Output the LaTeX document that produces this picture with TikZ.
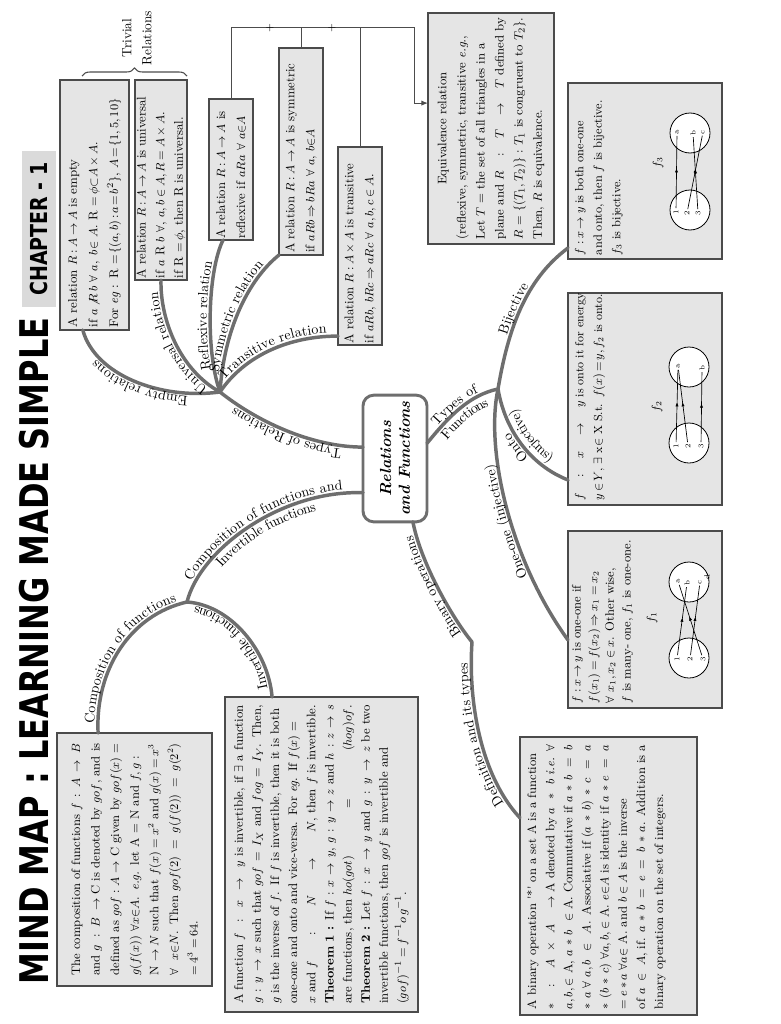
\documentclass[tikz,border=0pt]{standalone}
\usepackage{fontspec}
\newfontfamily\titlefont{DejaVu Sans}
\usetikzlibrary{calc,arrows.meta,decorations.text,decorations.pathreplacing,decorations.markings}
\definecolor{branchc}{RGB}{110,110,110}
\definecolor{boxfill}{RGB}{229,229,229}
\definecolor{boxline}{RGB}{75,75,75}
\definecolor{chapfill}{RGB}{218,218,218}
\newcommand\lblfont{\fontsize{10.5}{12}\selectfont}
\newcommand\jl[1]{\makebox[\hsize][s]{#1}}
\newcommand\bx[2]{\fontsize{#1}{#2}\selectfont\thickmuskip=4mu plus 2mu\relax\medmuskip=3mu plus 1mu\relax\hyphenpenalty=10000\relax\exhyphenpenalty=10000\relax}
\newcommand\tightmath{\thickmuskip=3mu plus 1mu\relax}
\newcommand\tightermath{\thickmuskip=2.5mu plus 1mu\relax}
\tikzset{
 box/.style={draw=boxline, fill=boxfill, line width=0.9pt, rotate=90, outer sep=0pt, inner sep=0pt, align=left},
 btext/.style={rotate=90, inner sep=0pt, outer sep=0pt, align=left},
 branch/.style={draw=branchc, line width=2.6pt, line cap=round},
 conn/.style={draw=black!70, line width=0.75pt},
 lbl/.style 2 args={decorate, decoration={text along path, text={|\lblfont|#1}, text align=center, raise=#2}},
 ftext/.style={rotate=90, inner sep=0pt, font=\small},
 venn/.style={circle, draw=black, line width=0.6pt, fill=white, minimum size=30pt, inner sep=0pt},
 maparr/.style={draw=black, line width=0.5pt, postaction={decorate}, decoration={markings, mark=at position 0.55 with {\arrow{Latex[length=3pt,width=2.4pt]}}}},
 elem/.style={rotate=90, inner sep=1pt, font=\fontsize{5.5}{6}\selectfont},
}
\begin{document}
\begin{tikzpicture}[x=0.75pt,y=-0.75pt]
\useasboundingbox (0,0) rectangle (781,1024);

% ---------- title ----------
\node[rotate=90, inner sep=0pt] (title) at (34,651) {\resizebox{500pt}{22pt}{\titlefont\bfseries MIND MAP : LEARNING MADE SIMPLE}};
\node[rotate=90, fill=chapfill, minimum width=117pt, minimum height=25pt, inner sep=0pt] (chap) at (39,229) {\resizebox{100pt}{13pt}{\titlefont\bfseries CHAPTER - 1}};

% ---------- centre ----------
\node[rotate=90, draw=branchc, line width=2.2pt, rounded corners=8pt, fill=white, minimum width=95pt, minimum height=48pt, inner sep=0pt, outer sep=0pt, align=center, font=\fontsize{12}{14}\selectfont\bfseries\itshape] (rf) at (395,458.5) {Relations\\and Functions};

% ---------- relation boxes ----------
\node[box, minimum width=187.5pt, minimum height=51.75pt, text width=183pt, font=\bx{9.4}{15.5}] (emp) at (94.5,205)
{A relation $R : A \to A$ is empty\\
if $a \not R\, b\ \forall\ a,\ b{\in}\ A.$ R $= \phi{\subset}A\times A.$\\
\tightermath For \textit{eg} : R $= \{(a,b) : a = b^2\}$, $A = \{1,5,10\}$};

\node[box, minimum width=150pt, minimum height=39pt, text width=147pt, font=\bx{9.5}{14}] (uni) at (161,180)
{A relation $R : A \to A$ is universal\\
if $a$ R $b$ $\forall$, $a,b \in A, R = A \times A$.\\
if R $= \phi$, then R is universal.};

\node[box, minimum width=105.75pt, minimum height=33pt, text width=104pt, font=\bx{9.5}{15}] (ref) at (231,169.5)
{A relation $R : A \to A$ is\\
reflexive if $aRa\ \forall\ a{\in}A$};

\node[box, minimum width=155.25pt, minimum height=33pt, text width=152pt, font=\bx{9.5}{15}] (sym) at (301,151.5)
{A relation $R : A \to A$ is symmetric\\
if $aRb \Rightarrow bRa\ \forall\ a,\, b{\in}A$};

\node[box, minimum width=148.5pt, minimum height=33pt, text width=146pt, font=\bx{9.5}{15}] (tra) at (360,246)
{A relation $R : A \times A$ is transitive\\
if $aRb$, $bRc \Rightarrow aRc\ \forall\ a,b,c \in A$.};

\node[box, minimum width=173.25pt, minimum height=94.5pt, text width=166pt, font=\bx{9.3}{14.3}] (equ) at (491,128.5)
{\makebox[\hsize][c]{Equivalence relation}\\
\jl{(reflexive, symmetric, transitive \textit{e.g.},}\\
\jl{Let $T$ = the set of all triangles in a}\\
\jl{plane and $R : T \to T$ defined by}\\
\jl{$R = \{(T_1, T_2)\} : T_1$ is congruent to $T_2\}$.}\\
Then, $R$ is equivalence.};

\node[rotate=90, align=center, inner sep=0pt, font=\fontsize{10}{15}\selectfont] (triv) at (137,38) {Trivial\\Relations};
\coordinate (bL) at (82,76);
\coordinate (bR) at (187,76);
\draw[decorate, decoration={brace, amplitude=6pt}, line width=0.8pt, draw=black!70] (bL) -- (bR);

% connectors to equivalence
\coordinate (jA) at (231,28);
\coordinate (jB) at (414,28);
\coordinate (eqIn) at ($(equ.north west)!0.61!(equ.north east)$);
\draw[conn, -{Latex[length=5pt,width=4pt]}] (ref.east) -- (jA) -- (jB) |- (eqIn);
\draw[conn] (sym.east) -- (sym.east |- jA);
\draw[conn] (tra.east) -- (tra.east |- jA);
\node[rotate=90, inner sep=0pt, font=\footnotesize] (pl1) at (270,28) {+};
\node[rotate=90, inner sep=0pt, font=\footnotesize] (pl2) at (332,28) {+};

% ---------- function boxes ----------
\node[box, minimum width=132pt, minimum height=115.5pt] (bij) at (645,171) {};
\node[btext, anchor=north west, text width=125pt, font=\bx{9}{13.9}] (bijt) at (575,255)
{$f : x \to y$ is both one-one\\
and onto, then $f$ is bijective.\\
$f_3$ is bijective.};
\node[ftext] (f3) at (658,163) {$f_3$};
\node[venn] (d3) at (690,210) {};
\node[venn] (c3) at (690,133) {};
\node[elem] (b1) at (676,212) {1};
\node[elem] (b2) at (687,213) {2};
\node[elem] (b3) at (698,213) {3};
\node[elem] (ba) at (677,132) {a};
\node[elem] (bb) at (693,133) {b};
\node[elem] (bc) at (703,132) {c};
\draw[maparr] (b1) -- (ba);
\draw[maparr] (b2) -- (bc);
\draw[maparr] (b3) -- (bb);

\node[box, minimum width=159pt, minimum height=115.5pt] (ont) at (645,399) {};
\node[btext, anchor=north west, text width=155pt, font=\bx{8.8}{14}] (ontt) at (575,500)
{\tightmath\jl{$f : x \to y$ is onto it for energy}\\
$y \in Y$, $\exists$ x$\in$ X S.t. $f(x) = y, f_2$ is onto.};
\node[ftext] (f2) at (657,407) {$f_2$};
\node[venn] (d2) at (689,443) {};
\node[venn] (c2) at (689,367) {};
\node[elem] (o1) at (676,446) {1};
\node[elem] (o2) at (688,446) {2};
\node[elem] (o3) at (701,446) {3};
\node[elem] (oa) at (678,366) {a};
\node[elem] (ob) at (702,368) {b};
\draw[maparr] (o1) -- (oa);
\draw[maparr] (o2) -- (oa);
\draw[maparr] (o3) -- (ob);

\node[box, minimum width=132.75pt, minimum height=115.5pt] (one) at (645,619.5) {};
\node[btext, anchor=north west, text width=128pt, font=\bx{9.2}{12.5}] (onet) at (572,703)
{$f : x \to y$ is one-one if\\
$f(x_1) = f(x_2) \Rightarrow x_1 = x_2$\\
$\forall\ x_1, x_2 \in x$. Other wise,\\
$f$ is many- one, $f_1$ is one-one.};
\node[ftext] (f1) at (652,618) {$f_1$};
\node[venn] (d1) at (689,658) {};
\node[venn] (c1) at (689,582) {};
\node[elem] (n1) at (677,659) {1};
\node[elem] (n2) at (690,659) {2};
\node[elem] (n3) at (703,659) {3};
\node[elem] (na) at (678,581) {a};
\node[elem] (nb) at (687,583) {b};
\node[elem] (nc) at (700,582) {c};
\node[elem] (nd) at (707,577) {d};
\draw[maparr] (n1) -- (nb);
\draw[maparr] (n2) -- (nc);
\draw[maparr] (n3) -- (na);

% ---------- binary ----------
\node[box, minimum width=208.5pt, minimum height=132.75pt] (bin) at (608.5,876) {};
\node[btext, anchor=north west, text width=198pt, font=\bx{9.2}{13.6}] (bint) at (527,1009)
{\jl{A binary operation \textquotesingle*\textquotesingle\ on a set A is a function}\\
\jl{$*: A \times A \to$ A denoted by $a * b$ \textit{i.e.} $\forall$}\\
\jl{$a,b,{\in}$ A, $a * b \in$ A. Commutative if $a * b = b$}\\
\jl{$*\ a\ \forall\ a,b \in A$. Associative if $(a * b) * c = a$}\\
\jl{$*\ (b * c)\ \forall a,b,{\in}$ A. $e{\in}A$ is identity if $a * e = a$}\\
$= e * a\ \forall a{\in}$ A. and $b \in A$ is the inverse\\
\jl{of $a \in A$, if. $a * b = e = b * a$. Addition is a}\\
binary operation on the set of integers.};

% ---------- composition / invertible ----------
\node[box, minimum width=189.75pt, minimum height=116.25pt, text width=174pt, font=\bx{9.2}{14.7}] (com) at (134.5,859.5)
{\jl{The composition of functions $f : A \to B$}\\
\jl{and $g : B \to$ C is denoted by $gof$, and is}\\
\jl{defined as $gof : A \to$ C given by $gof(x)$ =}\\
\jl{$g(f(x))\ \forall x{\in}A$. \textit{e.g.} let A = N and $f, g$ :}\\
\jl{N $\to N$ such that $f(x) = x^2$ and $g(x) = x^3$}\\
\jl{$\forall\ \ x{\in}N$. Then $gof(2) = g(f(2)) = g(2^2)$}\\
$= 4^3 = 64$.};

\node[box, minimum width=236.25pt, minimum height=144.75pt, text width=224pt, font=\bx{9.3}{13.6}] (inv) at (321.5,854.5)
{\jl{A function $f : x \to y$ is invertible, if $\exists$ a function}\\
\jl{$g : y \to x$ such that $gof = I_X$ and $fog = I_Y$. Then,}\\
\jl{$g$ is the inverse of $f$. If $f$ is invertible, then it is both}\\
\jl{one-one and onto and vice-versa. For \textit{eg}. If $f(x)$ =}\\
\jl{$x$ and $f : N \to N$, then $f$ is invertible.}\\
\jl{\textbf{Theorem 1 :} If $f : x \to y$, $g : y \to z$ and $h : z \to s$}\\
\jl{are functions, then $ho(got) = (hog)of$.}\\
\jl{\textbf{Theorem 2 :} Let $f : x \to y$ and $g : y \to z$ be two}\\
\jl{invertible functions, then $gof$ is invertible and}\\
$(gof)^{-1} = f^{-1} o\, g^{-1}$.};

% ---------- attachment points ----------
\coordinate (hR) at (220,392);
\coordinate (hC) at (187,602);
\coordinate (hF) at (498,389);
\coordinate (hB) at (472,642);
\coordinate (P1) at ($(rf.north west)!0.59!(rf.north east)$);
\coordinate (P2) at ($(rf.north west)!0.23!(rf.north east)$);
\coordinate (P3) at ($(rf.south west)!0.62!(rf.south east)$);
\coordinate (P4) at ($(rf.north west)!0.78!(rf.south west)$);
\coordinate (eEM) at ($(emp.north west)!0.33!(emp.south west)$);
\coordinate (eUN) at (uni.west);
\coordinate (eRE) at ($(ref.north west)!0.32!(ref.south west)$);
\coordinate (eSY) at (sym.north west);
\coordinate (eTA) at ($(tra.north west)!0.045!(tra.north east)$);
\coordinate (eBJ) at ($(bij.north west)!0.0625!(bij.north east)$);
\coordinate (eON) at ($(ont.north west)!0.118!(ont.north east)$);
\coordinate (eOO) at ($(one.north west)!0.384!(one.north east)$);
\coordinate (eDE) at ($(bin.north west)!0.709!(bin.north east)$);
\coordinate (eCO) at ($(com.north east)!0.265!(com.south east)$);
\coordinate (eIN) at ($(inv.north east)!0.244!(inv.south east)$);

% ---------- branches ----------
\draw[branch] (P1) .. controls (310,447) and (255,420) .. (hR);
\path[lbl={Types of Relations}{2.5pt}] (P1) .. controls (310,447) and (255,420) .. (hR);

\draw[branch] (hR) .. controls (160,400) and (95,375) .. (eEM);
\path[lbl={Empty relations}{2.5pt}] (hR) .. controls (160,400) and (95,375) .. (eEM);

\draw[branch] (hR) .. controls (180,370) and (160,320) .. (eUN);
\path[lbl={Universal relation}{2.5pt}] (hR) .. controls (180,370) and (160,320) .. (eUN);

\draw[branch] (hR) .. controls (205,350) and (208,270) .. (eRE);
\path[lbl={Reflexive relation}{2.5pt}] (hR) .. controls (205,350) and (208,270) .. (eRE);

\draw[branch] (hR) .. controls (224,330) and (248,280) .. (eSY);
\path[decorate, decoration={text along path, text={|\lblfont|Symmetric relation}, text align={left, left indent=14pt}, raise=2.5pt}] (hR) .. controls (224,330) and (248,280) .. (eSY);

\draw[branch] (hR) .. controls (245,355) and (290,336) .. (eTA);
\path[lbl={Transitive relation}{2.5pt}] (hR) .. controls (245,355) and (290,336) .. (eTA);

\draw[branch] (hC) .. controls (200,550) and (280,490) .. (P2);
\path[lbl={Composition of functions and}{2.5pt}] (hC) .. controls (200,550) and (280,490) .. (P2);
\path[lbl={Invertible functions}{-10pt}] (hC) .. controls (200,550) and (280,490) .. (P2);

\draw[branch] (eCO) .. controls (95,670) and (130,615) .. (hC);
\path[lbl={Composition of functions}{2.5pt}] (eCO) .. controls (95,670) and (130,615) .. (hC);

\draw[branch] (eIN) .. controls (268,650) and (230,605) .. (hC);
\path[lbl={Invertible functions}{2.5pt}] (eIN) .. controls (268,650) and (230,605) .. (hC);

\draw[branch] (P3) .. controls (450,415) and (470,395) .. (hF);
\path[lbl={Types of}{2.5pt}] (P3) .. controls (450,415) and (470,395) .. (hF);
\path[lbl={Functions}{-10pt}] (P3) .. controls (450,415) and (470,395) .. (hF);

\draw[branch] (hF) .. controls (508,330) and (525,280) .. (eBJ);
\path[lbl={Bijective}{2.5pt}] (hF) .. controls (508,330) and (525,280) .. (eBJ);

\draw[branch] (eON) .. controls (530,465) and (505,430) .. (hF);
\path[lbl={Onto}{2.5pt}] (eON) .. controls (530,465) and (505,430) .. (hF);
\path[lbl={(surjective)}{-10pt}] (eON) .. controls (530,465) and (505,430) .. (hF);

\draw[branch] (eOO) .. controls (510,560) and (485,450) .. (hF);
\path[lbl={One-one (injective)}{2.5pt}] (eOO) .. controls (510,560) and (485,450) .. (hF);

\draw[branch] (hB) .. controls (450,615) and (420,560) .. (P4);
\path[lbl={Binary operations}{2.5pt}] (hB) .. controls (450,615) and (420,560) .. (P4);

\draw[branch] (eDE) .. controls (480,775) and (468,700) .. (hB);
\path[lbl={Definition and its types}{2.5pt}] (eDE) .. controls (480,775) and (468,700) .. (hB);

\end{tikzpicture}
\end{document}
